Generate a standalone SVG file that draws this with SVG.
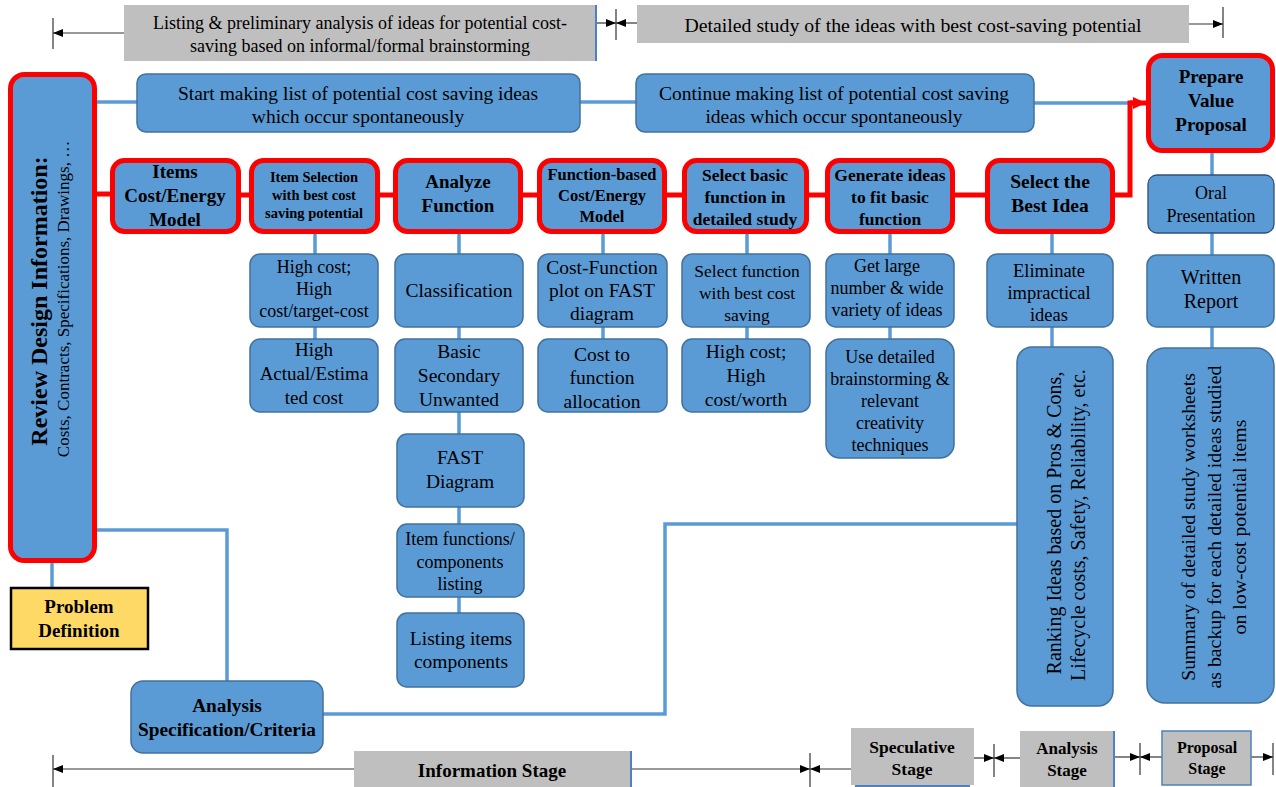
<svg xmlns="http://www.w3.org/2000/svg" width="1276" height="787" viewBox="0 0 1276 787" font-family="Liberation Serif, Times New Roman, DejaVu Serif, serif">
<defs>
<style>
text{font-family:'Liberation Serif','Times New Roman','DejaVu Serif',serif;text-anchor:middle;fill:#000}
.b{font-weight:bold}
.rb{fill:#5B9BD5;stroke:#FF0000;stroke-width:5}
.sb{fill:#5B9BD5;stroke:#41719C;stroke-width:1.5}
.ob{fill:#5B9BD5;stroke:#2F4F7F;stroke-width:1.3}
.gb{fill:#BFBFBF}
.ge{stroke:#4F81BD;stroke-width:2;fill:none}
.ln{stroke:#5B9BD5;stroke-width:3.5;fill:none}
.rl{stroke:#FF0000;stroke-width:5;fill:none}
.al{stroke:#333;stroke-width:1.2;fill:none}
.tk{stroke:#333;stroke-width:1.2}
</style>
<marker id="ah" markerWidth="10" markerHeight="8" refX="10" refY="4" orient="auto" markerUnits="userSpaceOnUse"><path d="M0,0 L10,4 L0,8 z" fill="#000"/></marker>
<marker id="rah" markerWidth="13" markerHeight="12" refX="13" refY="6" orient="auto" markerUnits="userSpaceOnUse"><path d="M0,0 L13,6 L0,12 z" fill="#FF0000"/></marker>
</defs>
<rect width="1276" height="787" fill="#fff"/>

<g id="axes">
<line class="al" x1="124" y1="33" x2="53" y2="33" marker-end="url(#ah)"/>
<line class="tk" x1="53" y1="18" x2="53" y2="49"/>
<line class="al" x1="597" y1="23" x2="616" y2="23" marker-end="url(#ah)"/>
<line class="al" x1="637" y1="23" x2="616" y2="23" marker-end="url(#ah)"/>
<line class="tk" x1="616" y1="9" x2="616" y2="40"/>
<line class="al" x1="1189" y1="24" x2="1223" y2="24" marker-end="url(#ah)"/>
<line class="tk" x1="1223" y1="7" x2="1223" y2="38"/>
<line class="al" x1="354" y1="769" x2="53" y2="769" marker-end="url(#ah)"/>
<line class="tk" x1="53" y1="755" x2="53" y2="787"/>
<line class="al" x1="631" y1="769" x2="810" y2="769" marker-end="url(#ah)"/>
<line class="al" x1="851" y1="769" x2="810" y2="769" marker-end="url(#ah)"/>
<line class="tk" x1="810" y1="753" x2="810" y2="787"/>
<line class="al" x1="974" y1="758" x2="994" y2="758" marker-end="url(#ah)"/>
<line class="al" x1="1020" y1="758" x2="994" y2="758" marker-end="url(#ah)"/>
<line class="tk" x1="994" y1="744" x2="994" y2="777"/>
<line class="al" x1="1114" y1="757" x2="1140" y2="757" marker-end="url(#ah)"/>
<line class="al" x1="1162" y1="757" x2="1140" y2="757" marker-end="url(#ah)"/>
<line class="tk" x1="1140" y1="743" x2="1140" y2="775"/>
<line class="al" x1="1251" y1="757" x2="1273" y2="757" marker-end="url(#ah)"/>
<line class="tk" x1="1273" y1="743" x2="1273" y2="775"/>
</g>

<g id="connectors">
<line class="ln" x1="97" y1="102" x2="137" y2="102"/>
<line class="ln" x1="580" y1="102" x2="636" y2="102"/>
<line class="ln" x1="1034" y1="103" x2="1132" y2="103"/>
<polyline class="rl" points="1115,195 1130,195 1130,103 1134,103"/>
<line class="rl" x1="1130" y1="103" x2="1146" y2="103" marker-end="url(#rah)"/>
<line class="rl" x1="95" y1="194" x2="110" y2="194"/>
<line class="rl" x1="240" y1="195" x2="249" y2="195"/>
<line class="rl" x1="379" y1="195" x2="393" y2="195"/>
<line class="rl" x1="523" y1="195" x2="537" y2="195"/>
<line class="rl" x1="667" y1="195" x2="682" y2="195"/>
<line class="rl" x1="808" y1="195" x2="825" y2="195"/>
<line class="rl" x1="955" y1="195" x2="985" y2="195"/>
<line class="ln" x1="315" y1="233" x2="315" y2="254"/>
<line class="ln" x1="315" y1="327" x2="315" y2="339"/>
<line class="ln" x1="459" y1="233" x2="459" y2="254"/>
<line class="ln" x1="459" y1="327" x2="459" y2="339"/>
<line class="ln" x1="459" y1="412" x2="459" y2="434"/>
<line class="ln" x1="459" y1="507" x2="459" y2="524"/>
<line class="ln" x1="459" y1="597" x2="459" y2="613"/>
<line class="ln" x1="603" y1="233" x2="603" y2="254"/>
<line class="ln" x1="603" y1="327" x2="603" y2="339"/>
<line class="ln" x1="747" y1="233" x2="747" y2="254"/>
<line class="ln" x1="747" y1="327" x2="747" y2="339"/>
<line class="ln" x1="890" y1="233" x2="890" y2="254"/>
<line class="ln" x1="890" y1="327" x2="890" y2="339"/>
<line class="ln" x1="1052" y1="233" x2="1052" y2="254"/>
<line class="ln" x1="1052" y1="327" x2="1052" y2="347"/>
<line class="ln" x1="1212" y1="153" x2="1212" y2="175"/>
<line class="ln" x1="1212" y1="233" x2="1212" y2="255"/>
<line class="ln" x1="1212" y1="327" x2="1212" y2="348"/>
<line class="ln" x1="52" y1="563" x2="52" y2="587"/>
<polyline class="ln" points="96,530 227,530 227,681"/>
<polyline class="ln" points="323,714 665,714 665,524 1017,524"/>
</g>

<g id="stage-listing">
<rect class="gb" x="124" y="5" width="472" height="56"/>
<line class="ge" x1="596" y1="5" x2="596" y2="61"/>
<text x="360" y="29" font-size="18">Listing &amp; preliminary analysis of ideas for potential cost-</text>
<text x="360" y="52" font-size="18">saving based on informal/formal brainstorming</text>
</g>
<g id="stage-detailed">
<rect class="gb" x="637" y="5" width="552" height="38"/>
<text x="913" y="32" font-size="19.8">Detailed study of the ideas with best cost-saving potential</text>
</g>
<g id="stage-information">
<rect class="gb" x="354" y="751" width="277" height="40"/>
<line class="ge" x1="631" y1="751" x2="631" y2="787"/>
<text class="b" x="492" y="777" font-size="19">Information Stage</text>
</g>
<g id="stage-speculative">
<rect class="gb" x="851" y="728" width="123" height="57"/>
<line class="ge" x1="855" y1="786" x2="970" y2="786"/>
<text class="b" x="912" y="753" font-size="17.5">Speculative</text>
<text class="b" x="912" y="775" font-size="17.5">Stage</text>
</g>
<g id="stage-analysis">
<rect class="gb" x="1020" y="731" width="94" height="58"/>
<line class="ge" x1="1114" y1="731" x2="1114" y2="787"/>
<text class="b" x="1067" y="754" font-size="17">Analysis</text>
<text class="b" x="1067" y="776" font-size="17">Stage</text>
</g>
<g id="stage-proposal">
<rect class="gb" x="1162" y="731" width="89" height="54" stroke="#4F81BD" stroke-width="1.5"/>
<text class="b" x="1207" y="753" font-size="16">Proposal</text>
<text class="b" x="1207" y="774" font-size="16">Stage</text>
</g>

<g id="review">
<rect class="rb" x="10.5" y="74.5" width="84" height="486" rx="14"/>
<text class="b" font-size="24" transform="translate(47,301) rotate(-90)">Review Design Information:</text>
<text font-size="17" transform="translate(69,299) rotate(-90)">Costs, Contracts, Specifications, Drawings, …</text>
</g>
<g id="start-list">
<rect class="sb" x="137" y="74" width="443" height="58" rx="9"/>
<text x="358" y="100" font-size="19.5">Start making list of potential cost saving ideas</text>
<text x="358" y="123" font-size="19.5">which occur spontaneously</text>
</g>
<g id="continue-list">
<rect class="sb" x="636" y="74" width="398" height="58" rx="9"/>
<text x="834" y="100" font-size="19.5">Continue making list of potential cost saving</text>
<text x="834" y="123" font-size="19.5">ideas which occur spontaneously</text>
</g>
<g id="prepare">
<rect class="rb" x="1148.5" y="55.5" width="124" height="95" rx="14"/>
<text class="b" x="1211" y="83" font-size="19">Prepare</text>
<text class="b" x="1211" y="107" font-size="19">Value</text>
<text class="b" x="1211" y="131" font-size="19">Proposal</text>
</g>
<g id="items-model">
<rect class="rb" x="112.5" y="160.5" width="126" height="71" rx="12"/>
<text class="b" x="175" y="178" font-size="19">Items</text>
<text class="b" x="175" y="202" font-size="19">Cost/Energy</text>
<text class="b" x="175" y="226" font-size="19">Model</text>
</g>
<g id="item-selection">
<rect class="rb" x="251.5" y="160.5" width="126" height="71" rx="12"/>
<text class="b" x="314" y="182" font-size="14.5">Item Selection</text>
<text class="b" x="314" y="200" font-size="14.5">with best cost</text>
<text class="b" x="314" y="218" font-size="14.5">saving potential</text>
</g>
<g id="analyze-function">
<rect class="rb" x="395.5" y="160.5" width="125" height="71" rx="12"/>
<text class="b" x="458" y="188" font-size="19">Analyze</text>
<text class="b" x="458" y="212" font-size="19">Function</text>
</g>
<g id="function-model">
<rect class="rb" x="539.5" y="160.5" width="125" height="71" rx="12"/>
<text class="b" x="602" y="180" font-size="16.5">Function-based</text>
<text class="b" x="602" y="201" font-size="16.5">Cost/Energy</text>
<text class="b" x="602" y="222" font-size="16.5">Model</text>
</g>
<g id="select-basic">
<rect class="rb" x="684.5" y="160.5" width="122" height="71" rx="12"/>
<text class="b" x="745" y="181" font-size="17.5">Select basic</text>
<text class="b" x="745" y="203" font-size="17.5">function in</text>
<text class="b" x="745" y="225" font-size="17.5">detailed study</text>
</g>
<g id="generate-ideas">
<rect class="rb" x="827.5" y="160.5" width="125" height="71" rx="12"/>
<text class="b" x="890" y="181" font-size="17.5">Generate ideas</text>
<text class="b" x="890" y="203" font-size="17.5">to fit basic</text>
<text class="b" x="890" y="225" font-size="17.5">function</text>
</g>
<g id="select-best">
<rect class="rb" x="987.5" y="160.5" width="125" height="71" rx="12"/>
<text class="b" x="1050" y="188" font-size="19.5">Select the</text>
<text class="b" x="1050" y="212" font-size="19.5">Best Idea</text>
</g>

<g id="high-cost-target">
<rect class="sb" x="250" y="254" width="128" height="73" rx="10"/>
<text x="314" y="273" font-size="18">High cost;</text>
<text x="314" y="295" font-size="18">High</text>
<text x="314" y="317" font-size="18">cost/target-cost</text>
</g>
<g id="high-actual">
<rect class="sb" x="250" y="339" width="128" height="73" rx="10"/>
<text x="314" y="356" font-size="19">High</text>
<text x="314" y="380" font-size="19">Actual/Estima</text>
<text x="314" y="404" font-size="19">ted cost</text>
</g>
<g id="classification">
<rect class="sb" x="395" y="254" width="128" height="73" rx="10"/>
<text x="459" y="297" font-size="19.5">Classification</text>
</g>
<g id="basic-secondary">
<rect class="sb" x="395" y="339" width="128" height="73" rx="10"/>
<text x="459" y="358" font-size="19.5">Basic</text>
<text x="459" y="382" font-size="19.5">Secondary</text>
<text x="459" y="406" font-size="19.5">Unwanted</text>
</g>
<g id="fast-diagram">
<rect class="sb" x="397" y="434" width="127" height="73" rx="10"/>
<text x="460" y="464" font-size="19.5">FAST</text>
<text x="460" y="488" font-size="19.5">Diagram</text>
</g>
<g id="item-functions">
<rect class="sb" x="397" y="524" width="127" height="73" rx="10"/>
<text x="460" y="545" font-size="18">Item functions/</text>
<text x="460" y="568" font-size="18">components</text>
<text x="460" y="590" font-size="18">listing</text>
</g>
<g id="listing-items">
<rect class="sb" x="397" y="613" width="127" height="74" rx="10"/>
<text x="461" y="645" font-size="19.5">Listing items</text>
<text x="461" y="668" font-size="19.5">components</text>
</g>
<g id="cost-function-plot">
<rect class="sb" x="538" y="254" width="129" height="73" rx="10"/>
<text x="602" y="274" font-size="19.5">Cost-Function</text>
<text x="602" y="297" font-size="19.5">plot on FAST</text>
<text x="602" y="320" font-size="19.5">diagram</text>
</g>
<g id="cost-allocation">
<rect class="sb" x="538" y="339" width="129" height="73" rx="10"/>
<text x="602" y="361" font-size="19.5">Cost to</text>
<text x="602" y="384" font-size="19.5">function</text>
<text x="602" y="408" font-size="19.5">allocation</text>
</g>
<g id="select-function">
<rect class="sb" x="682" y="254" width="128" height="73" rx="10"/>
<text x="747" y="277" font-size="17.5">Select function</text>
<text x="747" y="299" font-size="17.5">with best cost</text>
<text x="747" y="321" font-size="17.5">saving</text>
</g>
<g id="high-cost-worth">
<rect class="sb" x="682" y="339" width="128" height="73" rx="10"/>
<text x="746" y="358" font-size="19.5">High cost;</text>
<text x="746" y="382" font-size="19.5">High</text>
<text x="746" y="406" font-size="19.5">cost/worth</text>
</g>
<g id="get-large">
<rect class="sb" x="826" y="254" width="128" height="73" rx="10"/>
<text x="887" y="272" font-size="18">Get large</text>
<text x="887" y="294" font-size="18">number &amp; wide</text>
<text x="887" y="316" font-size="18">variety of ideas</text>
</g>
<g id="use-detailed">
<rect class="sb" x="826" y="339" width="128" height="119" rx="14"/>
<text x="890" y="363" font-size="18">Use detailed</text>
<text x="890" y="385" font-size="18">brainstorming &amp;</text>
<text x="890" y="407" font-size="18">relevant</text>
<text x="890" y="429" font-size="18">creativity</text>
<text x="890" y="451" font-size="18">techniques</text>
</g>
<g id="eliminate">
<rect class="sb" x="987" y="254" width="126" height="73" rx="10"/>
<text x="1049" y="277" font-size="18.5">Eliminate</text>
<text x="1049" y="299" font-size="18.5">impractical</text>
<text x="1049" y="321" font-size="18.5">ideas</text>
</g>
<g id="ranking">
<rect class="sb" x="1017" y="347" width="96" height="359" rx="15"/>
<text font-size="20" transform="translate(1061,523) rotate(-90)">Ranking Ideas based on Pros &amp; Cons,</text>
<text font-size="20" transform="translate(1085,525) rotate(-90)">Lifecycle costs, Safety, Reliability, etc.</text>
</g>
<g id="oral">
<rect class="ob" x="1148" y="175" width="126" height="58" rx="9"/>
<text x="1211" y="199" font-size="18">Oral</text>
<text x="1211" y="222" font-size="18">Presentation</text>
</g>
<g id="written">
<rect class="sb" x="1147" y="255" width="127" height="72" rx="10"/>
<text x="1211" y="284" font-size="20">Written</text>
<text x="1211" y="308" font-size="20">Report</text>
</g>
<g id="summary">
<rect class="sb" x="1147" y="348" width="127" height="355" rx="18"/>
<text font-size="19.8" transform="translate(1195,527) rotate(-90)">Summary of detailed study worksheets</text>
<text font-size="19.8" transform="translate(1221,527) rotate(-90)">as backup for each detailed ideas studied</text>
<text font-size="19.8" transform="translate(1246,527) rotate(-90)">on low-cost potential items</text>
</g>
<g id="problem-definition">
<rect x="11" y="588" width="137" height="61" fill="#FFD966" stroke="#000" stroke-width="2.5"/>
<text class="b" x="79" y="613" font-size="19">Problem</text>
<text class="b" x="79" y="637" font-size="19">Definition</text>
</g>
<g id="analysis-spec">
<rect class="sb" x="131" y="681" width="192" height="72" rx="12"/>
<text class="b" x="227" y="712" font-size="19.3">Analysis</text>
<text class="b" x="227" y="736" font-size="19.3">Specification/Criteria</text>
</g>
</svg>
